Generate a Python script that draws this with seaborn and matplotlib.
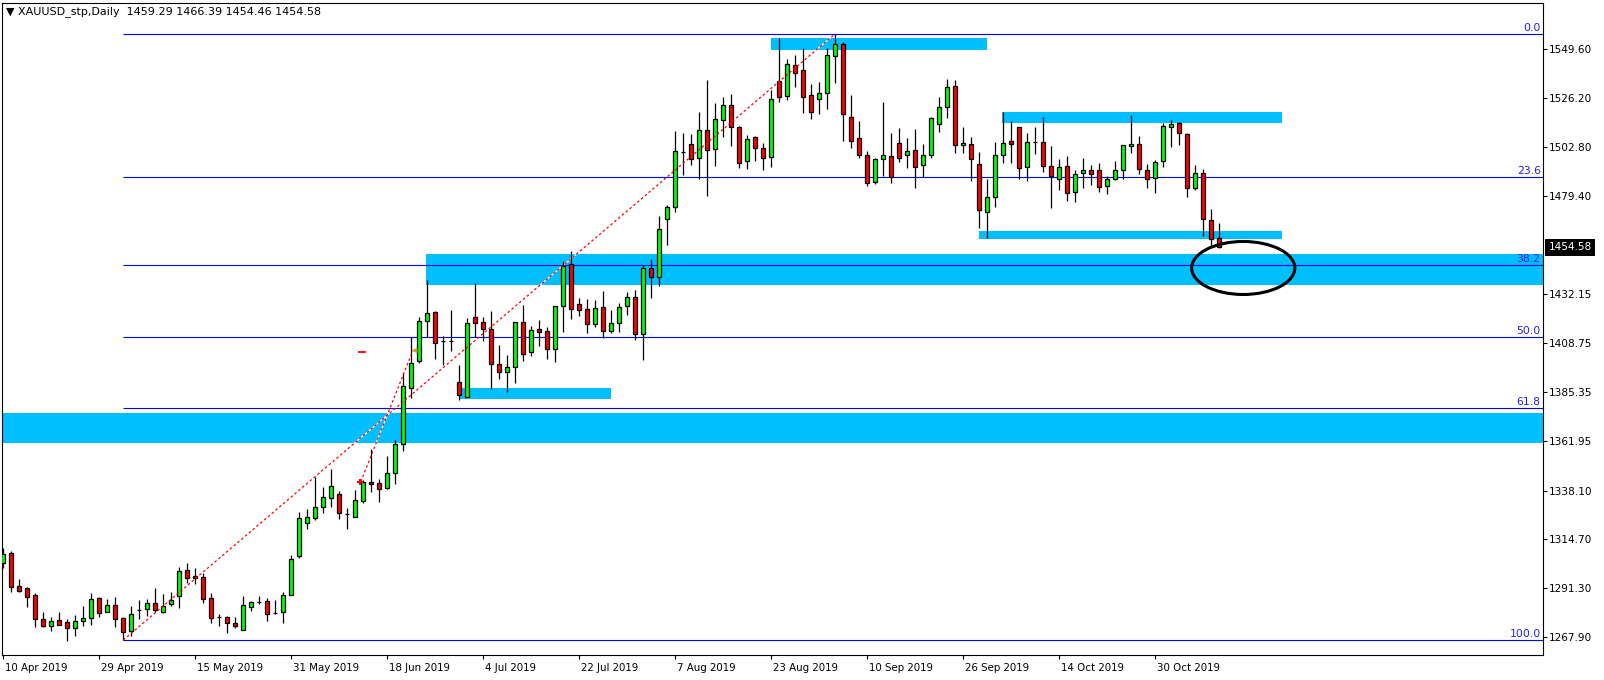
import numpy as np
import pandas as pd
import matplotlib
matplotlib.use('Agg')
import matplotlib.pyplot as plt
import seaborn as sns
from matplotlib.patches import Rectangle, Ellipse
from matplotlib import transforms, font_manager

# daily candles (bar 0 = 10 Apr 2019)
opens = [1303.5, 1308.0, 1292.4, 1291.3, 1287.9, 1276.4, 1273.2, 1275.9, 1274.9, 1272.1,
         1275.5, 1276.9, 1286.5, 1279.8, 1283.1, 1276.9, 1270.7, 1280.9, 1281.2, 1284.1,
         1280.1, 1283.9, 1287.4, 1299.9, 1297.1, 1296.7, 1286.4, 1277.3, 1277.3, 1274.6,
         1271.1, 1282.5, 1284.8, 1285.0, 1279.3, 1280.1, 1287.9, 1306.9, 1322.7, 1325.1,
         1330.4, 1334.7, 1336.3, 1326.7, 1325.6, 1333.3, 1342.1, 1341.7, 1339.5, 1346.3,
         1360.2, 1387.0, 1400.0, 1419.1, 1423.5, 1409.6, 1409.6, 1389.9, 1382.7, 1421.1,
         1418.7, 1415.5, 1398.5, 1395.0, 1397.1, 1418.7, 1404.3, 1415.5, 1414.5, 1405.7,
         1426.3, 1446.6, 1427.4, 1424.9, 1417.7, 1425.8, 1414.7, 1418.2, 1426.3, 1430.6,
         1412.9, 1444.8, 1440.2, 1468.0, 1474.1, 1500.1, 1503.9, 1497.2, 1510.8, 1501.5,
         1515.4, 1522.6, 1512.1, 1495.8, 1507.3, 1502.0, 1498.0, 1534.5, 1526.9, 1541.9,
         1539.5, 1527.6, 1525.5, 1528.7, 1546.4, 1551.8, 1516.8, 1506.8, 1498.8, 1485.7,
         1496.7, 1498.3, 1504.6, 1498.6, 1501.0, 1493.9, 1498.6, 1513.6, 1522.0, 1531.9,
         1503.4, 1503.9, 1494.3, 1471.3, 1478.5, 1498.7, 1505.5, 1512.1, 1492.9, 1504.9,
         1504.9, 1493.4, 1487.2, 1493.4, 1480.9, 1490.0, 1491.5, 1491.5, 1483.8, 1487.5,
         1491.5, 1503.0, 1504.0, 1491.5, 1487.6, 1495.8, 1512.1, 1514.0, 1508.7, 1482.8,
         1490.0, 1467.5, 1459.29]
highs = [1310.4, 1309.0, 1295.6, 1291.7, 1288.9, 1279.9, 1277.7, 1279.9, 1276.4, 1278.5,
         1282.8, 1288.9, 1286.9, 1286.0, 1286.9, 1277.7, 1282.8, 1285.7, 1286.0, 1291.3,
         1288.5, 1289.3, 1301.5, 1303.4, 1301.0, 1298.7, 1288.8, 1279.0, 1278.0, 1277.3,
         1287.6, 1285.0, 1287.6, 1286.4, 1285.6, 1289.3, 1307.2, 1328.0, 1329.2, 1344.4,
         1340.0, 1348.4, 1337.9, 1329.6, 1338.4, 1343.1, 1357.8, 1343.6, 1354.6, 1362.3,
         1394.2, 1411.5, 1421.1, 1439.0, 1424.3, 1412.1, 1424.6, 1398.2, 1420.6, 1437.4,
         1421.4, 1424.1, 1407.8, 1403.0, 1418.7, 1427.0, 1416.9, 1419.8, 1416.6, 1426.3,
         1448.0, 1453.0, 1430.2, 1429.9, 1429.4, 1433.7, 1424.6, 1428.1, 1433.4, 1434.0,
         1446.2, 1449.0, 1469.6, 1474.9, 1510.3, 1509.2, 1508.7, 1519.4, 1534.7, 1523.9,
         1526.8, 1528.0, 1512.7, 1508.2, 1507.9, 1504.4, 1529.9, 1555.0, 1544.7, 1546.7,
         1549.9, 1532.7, 1533.6, 1549.9, 1556.9, 1553.1, 1527.5, 1515.1, 1500.7, 1497.5,
         1524.4, 1509.2, 1511.9, 1507.1, 1511.3, 1504.2, 1517.2, 1526.6, 1535.2, 1534.8,
         1512.1, 1507.3, 1500.1, 1487.3, 1504.9, 1519.2, 1515.1, 1512.1, 1509.2, 1512.1,
         1516.9, 1503.1, 1496.9, 1498.3, 1491.6, 1497.2, 1493.9, 1494.8, 1488.8, 1496.0,
         1503.5, 1518.0, 1507.8, 1494.5, 1496.4, 1514.0, 1515.6, 1514.5, 1509.5, 1493.9,
         1491.9, 1473.0, 1466.39]
lows = [1300.8, 1289.7, 1289.7, 1282.2, 1272.9, 1272.9, 1271.0, 1273.9, 1266.2, 1268.4,
        1273.2, 1273.7, 1277.7, 1279.8, 1272.9, 1266.5, 1268.4, 1276.7, 1278.0, 1280.1,
        1279.6, 1282.9, 1282.0, 1293.6, 1293.2, 1284.1, 1274.8, 1273.4, 1269.7, 1272.4,
        1271.1, 1280.5, 1283.6, 1275.7, 1279.0, 1274.8, 1287.9, 1305.6, 1319.7, 1324.0,
        1327.2, 1330.0, 1324.5, 1319.7, 1325.6, 1332.3, 1337.5, 1332.7, 1338.7, 1341.0,
        1357.2, 1382.2, 1399.3, 1411.5, 1401.2, 1398.4, 1405.1, 1381.5, 1382.7, 1411.5,
        1409.9, 1386.6, 1391.4, 1385.4, 1389.8, 1400.3, 1402.7, 1407.5, 1400.9, 1399.8,
        1414.2, 1420.1, 1421.9, 1413.7, 1416.3, 1411.0, 1413.4, 1414.2, 1422.2, 1410.3,
        1400.6, 1430.2, 1436.2, 1455.9, 1471.7, 1489.2, 1494.0, 1487.2, 1479.3, 1493.7,
        1507.6, 1503.1, 1492.7, 1492.3, 1496.1, 1491.6, 1493.2, 1524.4, 1525.4, 1531.5,
        1519.1, 1516.1, 1518.5, 1520.8, 1533.1, 1505.5, 1502.0, 1497.2, 1484.1, 1484.8,
        1488.9, 1485.2, 1495.6, 1492.7, 1482.8, 1488.4, 1497.5, 1510.0, 1516.5, 1499.9,
        1499.9, 1486.5, 1464.0, 1458.9, 1474.1, 1495.1, 1495.1, 1487.5, 1486.5, 1499.3,
        1490.8, 1473.6, 1482.0, 1476.9, 1476.5, 1483.2, 1484.4, 1481.2, 1480.3, 1486.8,
        1487.5, 1500.0, 1489.6, 1483.2, 1480.8, 1493.2, 1502.8, 1503.6, 1478.9, 1482.1,
        1460.2, 1455.5, 1454.46]
closes = [1307.7, 1292.1, 1290.1, 1287.3, 1276.4, 1273.2, 1275.5, 1273.9, 1272.1, 1275.6,
          1276.9, 1286.0, 1279.3, 1283.3, 1276.4, 1270.2, 1278.8, 1280.9, 1284.1, 1280.9,
          1282.6, 1285.5, 1299.4, 1296.3, 1296.0, 1286.3, 1277.2, 1277.3, 1274.5, 1273.0,
          1283.1, 1284.5, 1284.8, 1278.8, 1279.3, 1288.0, 1305.3, 1324.8, 1325.4, 1330.2,
          1335.0, 1340.2, 1327.5, 1326.7, 1333.6, 1342.1, 1341.0, 1339.0, 1346.3, 1360.2,
          1388.0, 1399.0, 1419.1, 1423.0, 1408.6, 1409.6, 1409.6, 1383.7, 1418.2, 1418.2,
          1415.3, 1398.5, 1395.0, 1397.1, 1418.7, 1403.3, 1415.0, 1413.9, 1405.7, 1426.3,
          1445.6, 1424.9, 1424.4, 1417.7, 1425.4, 1414.3, 1418.2, 1426.2, 1430.6, 1413.3,
          1444.5, 1440.5, 1463.2, 1473.7, 1500.6, 1500.1, 1496.7, 1510.8, 1501.2, 1515.9,
          1522.6, 1512.4, 1495.2, 1506.3, 1502.0, 1497.2, 1525.5, 1526.4, 1542.2, 1538.3,
          1526.8, 1519.6, 1528.4, 1546.7, 1551.8, 1518.3, 1505.7, 1498.8, 1485.2, 1496.9,
          1498.8, 1488.1, 1497.5, 1500.7, 1493.2, 1498.8, 1516.4, 1521.7, 1531.3, 1503.4,
          1504.4, 1496.7, 1472.3, 1478.5, 1498.7, 1504.4, 1503.9, 1492.8, 1504.9, 1504.9,
          1493.4, 1488.6, 1492.9, 1480.4, 1489.5, 1491.5, 1489.5, 1483.7, 1487.2, 1491.5,
          1503.5, 1504.0, 1492.0, 1487.2, 1495.3, 1512.6, 1513.5, 1509.2, 1482.8, 1490.0,
          1468.0, 1458.4, 1454.58]

date_labels = ['10 Apr 2019', '29 Apr 2019', '15 May 2019', '31 May 2019', '18 Jun 2019',
               '4 Jul 2019', '22 Jul 2019', '7 Aug 2019', '23 Aug 2019', '10 Sep 2019',
               '26 Sep 2019', '14 Oct 2019', '30 Oct 2019']
date_label_bars = [0, 12, 24, 36, 48, 60, 72, 84, 96, 108, 120, 132, 144]
price_ticks = [1549.60, 1526.20, 1502.80, 1479.40, 1432.15, 1408.75,
               1385.35, 1361.95, 1338.10, 1314.70, 1291.30, 1267.90]
last_price = 1454.58

# fibonacci retracement (swing low bar 15 -> swing high bar 104)
fib_low_bar, fib_low = 15, 1266.5
fib_high_bar, fib_high = 104, 1556.9
fib_ratios = [0.0, 23.6, 38.2, 50.0, 61.8, 100.0]

# blue zones: start bar, end bar (None = chart edge), low price, high price
zones = [
    (96.0, 123.0, 1549.3, 1554.7),
    (124.8, 159.8, 1514.3, 1519.3),
    (122.0, 159.8, 1458.6, 1462.4),
    (52.9, None, 1436.6, 1451.4),
    (57.1, 76.0, 1381.9, 1387.2),
    (None, None, 1360.9, 1375.2),
]

# second trend line with its markers
trend_bars = [44.7, 51.2]
trend_prices = [1342.4, 1405.2]

# circled area
circle_bar, circle_price = 155.0, 1444.7
circle_w, circle_h = 12.9, 25.4

df = pd.DataFrame({'open': opens, 'high': highs, 'low': lows, 'close': closes})
df['bar'] = np.arange(len(df))

sns.set_theme(style='white')
plt.rcParams['font.family'] = ['DejaVu Sans']

fig = plt.figure(figsize=(16.04, 6.8), dpi=100)
ax = fig.add_axes([2 / 1604, 25 / 680, 1541 / 1604, 652 / 680])
xmin, xmax = -0.16, 192.47
ax.set_xlim(xmin, xmax)
ax.set_ylim(1259.32, 1571.63)
ax.set_facecolor('white')

for b0, b1, lo, hi in zones:
    x0 = xmin if b0 is None else b0
    x1 = xmax if b1 is None else b1
    ax.add_patch(Rectangle((x0, lo), x1 - x0, hi - lo, facecolor='#00BFFF',
                           edgecolor='none', zorder=1))

rng = fib_high - fib_low
blend = transforms.blended_transform_factory(ax.transAxes, ax.transData)
for r in fib_ratios:
    lvl = fib_high - r / 100 * rng
    ax.hlines(lvl, fib_low_bar, xmax, color='#0000FF', lw=0.8, zorder=2)
    ax.text(0.9985, lvl + 0.5, f'{r:.1f}', transform=blend,
            ha='right', va='bottom', color='#2020F0', fontsize=7.8, zorder=2)

# candles
body_lo = df[['open', 'close']].min(axis=1)
body_h = (df['close'] - df['open']).abs()
colors = np.where(df['close'] > df['open'], '#00FF00',
                  np.where(df['close'] < df['open'], '#FF0000', 'black'))
ax.vlines(df['bar'], df['low'], df['high'], color='black', lw=0.9, zorder=3)
ax.bar(df['bar'], body_h, bottom=body_lo, width=0.47, color=colors,
       edgecolor='black', linewidth=0.9, zorder=4)

# dotted red lines (white gaps show over the blue zones)
fib_x = [fib_low_bar, fib_high_bar]
fib_y = [fib_low, fib_high]
for xs, ys in [(fib_x, fib_y), (trend_bars, trend_prices)]:
    ax.plot(xs, ys, color='white', lw=0.9, zorder=1.5)
    ax.plot(xs, ys, color='red', lw=0.9, ls=(0, (2, 2)), zorder=5)
ax.plot(trend_bars[0] - 0.1, trend_prices[0], marker='+', color='red', ms=5, mew=1.5, zorder=6)
ax.plot(trend_bars[1] + 0.2, trend_prices[1], marker='<', color='#D0A040', ms=5, mec='none', zorder=6)
ax.hlines(1404.6, 44.4, 45.3, color='red', lw=1.3, zorder=6)

ax.add_patch(Ellipse((circle_bar, circle_price), circle_w, circle_h, fill=False,
                     edgecolor='black', lw=2.2, zorder=7))

# axes styling, MT4 look
for s in ax.spines.values():
    s.set_color('black')
    s.set_linewidth(0.8)
ax.grid(False)
ax.yaxis.tick_right()
ax.set_yticks(price_ticks)
ax.set_yticklabels([f'{v:.2f}' for v in price_ticks])
ax.tick_params(axis='y', direction='out', length=3, width=0.8, pad=1.2,
               labelsize=7.6, colors='black', right=True, left=False)

names = {f.name for f in font_manager.fontManager.ttflist}
if 'Liberation Sans Narrow' in names:
    date_font, date_size, date_stretch = 'Liberation Sans Narrow', 10.2, 'normal'
else:
    date_font, date_size, date_stretch = 'DejaVu Sans', 8.2, 'condensed'
ax.set_xticks(date_label_bars)
ax.set_xticklabels(date_labels, ha='left')
ax.tick_params(axis='x', direction='out', length=3, width=0.8, pad=2.5,
               labelsize=date_size, colors='black', bottom=True)
offset = transforms.ScaledTranslation(1.5 / 100, 0, fig.dpi_scale_trans)
for lab in ax.get_xticklabels():
    lab.set_fontfamily(date_font)
    lab.set_fontstretch(date_stretch)
    lab.set_transform(lab.get_transform() + offset)

ax.text(1.0035, last_price, f'{last_price:.2f}', transform=blend,
        ha='left', va='center', color='white', fontsize=7.6, clip_on=False, zorder=8,
        bbox=dict(boxstyle='square,pad=0.3', fc='black', ec='none'))

fig.text(6 / 1604, 1 - 12 / 680,
         '\u25bc XAUUSD_stp,Daily  1459.29 1466.39 1454.46 1454.58',
         fontsize=8, ha='left', va='center', color='black')

fig.savefig('out.png', dpi=100)
plt.close()
